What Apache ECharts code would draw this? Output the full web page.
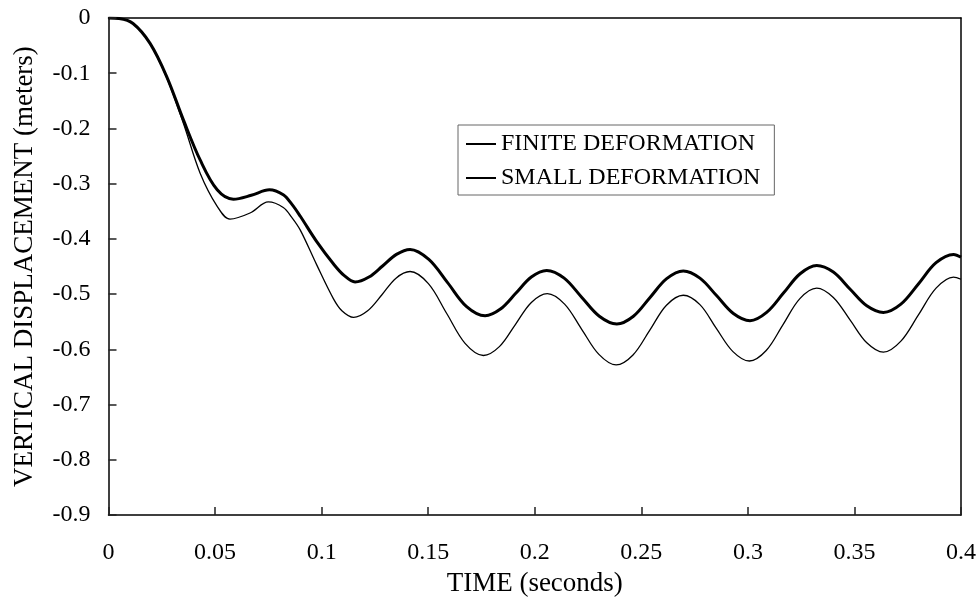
<!DOCTYPE html>
<html>
<head>
<meta charset="UTF-8">
<title>vertical displacement</title>
<script src="https://cdn.jsdelivr.net/npm/echarts@6/dist/echarts.min.js"></script>
<style>
  html, body { margin: 0; padding: 0; background: #fff; }
  #main { width: 979px; height: 602px; }
</style>
</head>
<body>
<div id="main"></div>
<script>
// time (s) and displacement (m)
var finiteT = [0, 0.005, 0.0115, 0.0195, 0.0273, 0.0351, 0.043, 0.051, 0.0586, 0.067, 0.0755, 0.082, 0.086, 0.09, 0.0977, 0.1055, 0.1105, 0.1157,
  0.1222, 0.1286, 0.1351, 0.1415, 0.1503, 0.1591, 0.1679, 0.1767, 0.1839, 0.1912, 0.1984, 0.2056, 0.2138, 0.2221, 0.2303, 0.2385,
  0.2463, 0.2541, 0.2619, 0.2697, 0.2775, 0.2854, 0.2932, 0.301, 0.3088, 0.3167, 0.3245, 0.3323, 0.3401, 0.348, 0.3558, 0.3636,
  0.3718, 0.3801, 0.3883, 0.3965, 0.4];
var finiteV = [0, -0.001, -0.01, -0.046, -0.106, -0.184, -0.257, -0.311, -0.328, -0.321, -0.311, -0.320, -0.337, -0.359, -0.405, -0.445, -0.466, -0.478,
  -0.469, -0.449, -0.428, -0.419, -0.437, -0.479, -0.522, -0.539, -0.527, -0.498, -0.469, -0.457, -0.471, -0.506, -0.540, -0.554,
  -0.540, -0.506, -0.472, -0.458, -0.471, -0.503, -0.535, -0.548, -0.533, -0.498, -0.463, -0.448, -0.460, -0.491, -0.521, -0.533,
  -0.518, -0.481, -0.443, -0.428, -0.433];

var smallT = [0, 0.005, 0.0115, 0.0195, 0.0273, 0.0351, 0.043, 0.051, 0.057, 0.0664, 0.075, 0.082, 0.086, 0.09, 0.0977, 0.1055, 0.1095, 0.115,
  0.1216, 0.1283, 0.1349, 0.1415, 0.1501, 0.1587, 0.1673, 0.1759, 0.1834, 0.1909, 0.1984, 0.2059, 0.214, 0.2221, 0.2301, 0.2382,
  0.2461, 0.254, 0.2618, 0.2697, 0.2775, 0.2852, 0.293, 0.3007, 0.3086, 0.3165, 0.3244, 0.3323, 0.3401, 0.348, 0.3558, 0.3636,
  0.3718, 0.3801, 0.3883, 0.3965, 0.4];
var smallV = [0, -0.001, -0.01, -0.046, -0.108, -0.19, -0.281, -0.341, -0.364, -0.353, -0.333, -0.343, -0.361, -0.384, -0.447, -0.508, -0.530, -0.542,
  -0.530, -0.501, -0.471, -0.459, -0.481, -0.535, -0.589, -0.611, -0.595, -0.555, -0.515, -0.499, -0.518, -0.564, -0.609, -0.628,
  -0.610, -0.565, -0.520, -0.502, -0.519, -0.562, -0.604, -0.621, -0.602, -0.555, -0.508, -0.489, -0.506, -0.547, -0.588, -0.605,
  -0.585, -0.537, -0.489, -0.469, -0.473];

function pairs(t, v) {
  var out = [];
  for (var i = 0; i < t.length; i++) out.push([t[i], v[i]]);
  return out;
}

var font = 'Liberation Serif, Times New Roman, serif';

var myChart = echarts.init(document.getElementById('main'));
var option = {
  animation: false,
  textStyle: { fontFamily: font, color: '#000' },
  grid: { left: 108.5, right: 18, top: 18, bottom: 86 },
  legend: {
    left: 458, top: 125,
    orient: 'vertical',
    itemWidth: 30, itemGap: 10,
    padding: [7, 14, 5, 7],
    borderColor: '#666', borderWidth: 1,
    itemStyle: { opacity: 0 },
    textStyle: { fontFamily: font, fontSize: 24, color: '#000' },
    data: ['FINITE DEFORMATION', 'SMALL DEFORMATION']
  },
  xAxis: [{
    type: 'value', z: 5,
    min: 0, max: 0.4, interval: 0.05,
    name: 'TIME (seconds)',
    nameLocation: 'middle',
    nameGap: 53,
    nameTextStyle: { fontFamily: font, fontSize: 27, color: '#000' },
    axisLine: { show: true, onZero: false, lineStyle: { color: '#000', width: 1.5 } },
    axisTick: { show: true, inside: true, length: 8, lineStyle: { color: '#222', width: 1.5 } },
    axisLabel: {
      margin: 26, fontFamily: font, fontSize: 24, color: '#000',
      formatter: function (v) { return String(+v.toFixed(2)); }
    },
    splitLine: { show: false }
  }, {
    type: 'value', position: 'top',
    min: 0, max: 0.4,
    axisLine: { show: true, onZero: false, lineStyle: { color: '#000', width: 1.5 } },
    axisTick: { show: false }, axisLabel: { show: false }, splitLine: { show: false }
  }],
  yAxis: [{
    type: 'value', z: 5,
    min: -0.9, max: 0, interval: 0.1,
    name: 'VERTICAL DISPLACEMENT (meters)',
    nameLocation: 'middle',
    nameGap: 70,
    nameTextStyle: { fontFamily: font, fontSize: 27, color: '#000' },
    axisLine: { show: true, onZero: false, lineStyle: { color: '#000', width: 1.5 } },
    axisTick: { show: true, inside: true, length: 8, lineStyle: { color: '#222', width: 1.5 } },
    axisLabel: {
      margin: 18, fontFamily: font, fontSize: 24, color: '#000',
      formatter: function (v) { return String(+v.toFixed(2)); }
    },
    splitLine: { show: false }
  }, {
    type: 'value', position: 'right',
    min: -0.9, max: 0,
    axisLine: { show: true, onZero: false, lineStyle: { color: '#000', width: 1.5 } },
    axisTick: { show: false }, axisLabel: { show: false }, splitLine: { show: false }
  }],
  series: [
    {
      name: 'FINITE DEFORMATION',
      type: 'line',
      smooth: 0.35,
      symbol: 'none',
      lineStyle: { color: '#000', width: 3 },
      itemStyle: { color: '#000' },
      data: pairs(finiteT, finiteV)
    },
    {
      name: 'SMALL DEFORMATION',
      type: 'line',
      smooth: 0.35,
      symbol: 'none',
      lineStyle: { color: '#000', width: 1.3 },
      itemStyle: { color: '#000' },
      data: pairs(smallT, smallV)
    }
  ]
};
myChart.setOption(option);
</script>
</body>
</html>
